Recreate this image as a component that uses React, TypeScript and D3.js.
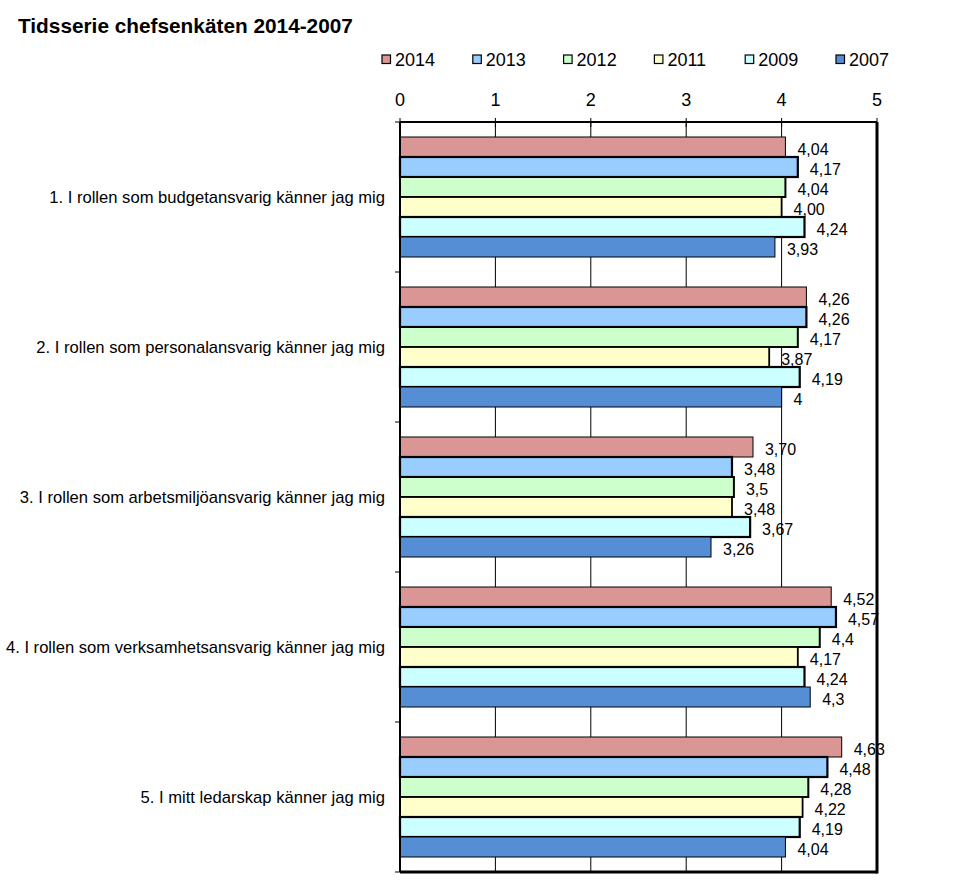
import React from "react";
import * as d3 from "d3";

const categories = [
  "1. I rollen som budgetansvarig känner jag mig",
  "2. I rollen som personalansvarig känner jag mig",
  "3. I rollen som arbetsmiljöansvarig känner jag mig",
  "4. I rollen som verksamhetsansvarig känner jag mig",
  "5. I mitt ledarskap känner jag mig",
];
const seriesNames = ["2014", "2013", "2012", "2011", "2009", "2007"];
const v2014 = [4.04, 4.26, 3.7, 4.52, 4.63];
const v2013 = [4.17, 4.26, 3.48, 4.57, 4.48];
const v2012 = [4.04, 4.17, 3.5, 4.4, 4.28];
const v2011 = [4.0, 3.87, 3.48, 4.17, 4.22];
const v2009 = [4.24, 4.19, 3.67, 4.24, 4.19];
const v2007 = [3.93, 4.0, 3.26, 4.3, 4.04];
const l2014 = ["4,04", "4,26", "3,70", "4,52", "4,63"];
const l2013 = ["4,17", "4,26", "3,48", "4,57", "4,48"];
const l2012 = ["4,04", "4,17", "3,5", "4,4", "4,28"];
const l2011 = ["4,00", "3,87", "3,48", "4,17", "4,22"];
const l2009 = ["4,24", "4,19", "3,67", "4,24", "4,19"];
const l2007 = ["3,93", "4", "3,26", "4,3", "4,04"];
const xTicks = [0, 1, 2, 3, 4, 5];

const colors = ["#D99694", "#99CCFF", "#CCFFCC", "#FFFFCC", "#CCFFFF", "#558ED5"];
const strokeW = [1, 2.2, 2, 1.8, 2.2, 1];

export default function App() {
  const values = [v2014, v2013, v2012, v2011, v2009, v2007];
  const labels = [l2014, l2013, l2012, l2011, l2009, l2007];
  const left = 400, right = 877, top = 122, bottom = 872;
  const x = d3.scaleLinear().domain([0, 5]).range([left, right]);
  const y = d3.scaleBand<string>().domain(categories).range([top, bottom]).paddingInner(0).paddingOuter(0);
  const inner = d3.scaleBand<string>().domain(seriesNames).range([15, y.bandwidth() - 15]);
  const font = "Arial, 'Liberation Sans', sans-serif";

  return (
    <svg width={980} height={881} style={{ position: "absolute", left: 0, top: 0, background: "#fff" }} fontFamily={font}>
      <rect width={980} height={881} fill="#fff" />
      <text x={18} y={33} fontSize={20.8} fontWeight="bold">Tidsserie chefsenkäten 2014-2007</text>
      {seriesNames.map((s, i) => {
        const lx = 382 + i * 90.8;
        return (
          <g key={s}>
            <rect x={lx} y={55} width={8.5} height={8.5} fill={colors[i]} stroke="#000" strokeWidth={1.2} />
            <text x={lx + 13} y={66} fontSize={18}>{s}</text>
          </g>
        );
      })}
      {xTicks.map((t) => (
        <text key={t} x={x(t)} y={106} fontSize={18} textAnchor="middle">{t}</text>
      ))}
      {xTicks.slice(1, 5).map((t) => (
        <line key={t} x1={x(t)} x2={x(t)} y1={top} y2={bottom} stroke="#000" strokeWidth={1} />
      ))}
      {categories.map((c, ci) => (
        <g key={c}>
          <text x={385} y={(y(c) as number) + y.bandwidth() / 2 + 6} fontSize={16.6} textAnchor="end">{c}</text>
          {seriesNames.map((s, si) => {
            const by = (y(c) as number) + (inner(s) as number);
            const bh = inner.bandwidth();
            const v = values[si][ci];
            return (
              <g key={s}>
                <rect x={x(0)} y={by} width={x(v) - x(0)} height={bh} fill={colors[si]} stroke="#000" strokeWidth={strokeW[si]} />
                <text x={x(v) + 12} y={by + bh / 2 + 8} fontSize={16}>{labels[si][ci]}</text>
              </g>
            );
          })}
        </g>
      ))}
      {d3.range(6).map((i) => {
        const yy = top + i * y.bandwidth();
        return <line key={i} x1={395} x2={left} y1={yy} y2={yy} stroke="#000" strokeWidth={1} />;
      })}
      {xTicks.map((t) => (
        <line key={"tk" + t} x1={x(t)} x2={x(t)} y1={top - 4} y2={top + 5} stroke="#000" strokeWidth={1} />
      ))}
      <line x1={left} x2={left} y1={top} y2={bottom} stroke="#000" strokeWidth={2} />
      <line x1={left} x2={right} y1={top} y2={top} stroke="#000" strokeWidth={2} />
      <line x1={right} x2={right} y1={top} y2={bottom + 1.5} stroke="#000" strokeWidth={3} />
      <line x1={left} x2={right} y1={bottom} y2={bottom} stroke="#000" strokeWidth={3} />
    </svg>
  );
}
